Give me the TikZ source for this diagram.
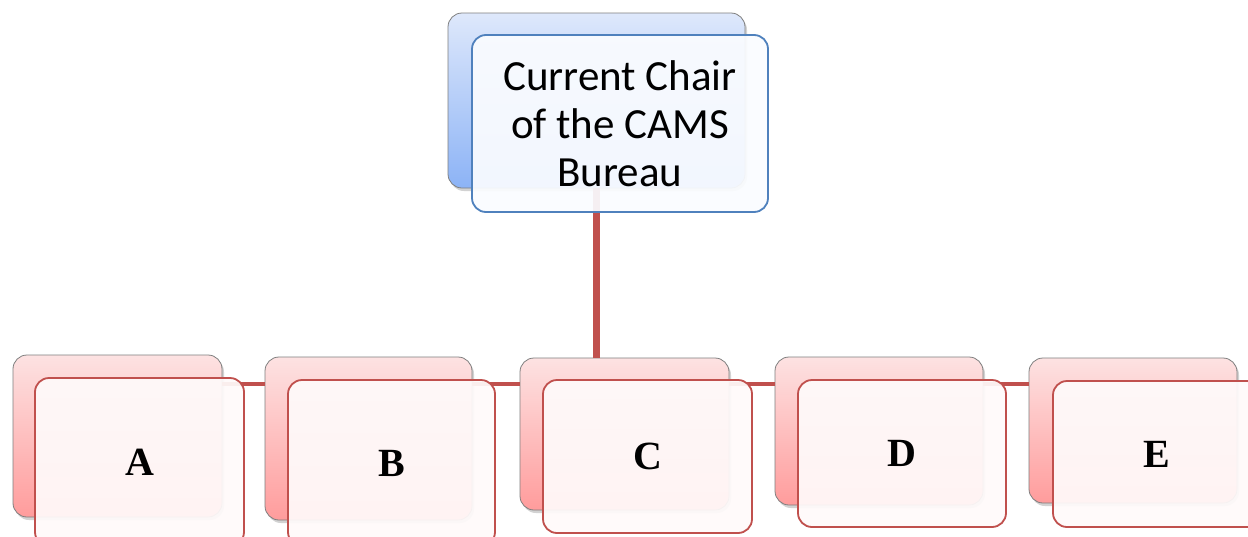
\documentclass[tikz,border=0pt]{standalone}
\usepackage{fontspec}
\newfontfamily\carlito{Carlito}
\newfontfamily\timesf{Liberation Serif}
\usetikzlibrary{shadows}
\definecolor{conncol}{HTML}{C0504D}
\definecolor{pinktop}{HTML}{FDE2E2}
\definecolor{pinkbot}{HTML}{FF9C9C}
\definecolor{bluetop}{HTML}{DEE8FB}
\definecolor{bluebot}{HTML}{8CB3F6}
\definecolor{frontpink}{HTML}{FFFAFA}
\definecolor{frontblue}{HTML}{FAFCFF}
\definecolor{blueline}{HTML}{4F81BD}
\definecolor{backline}{HTML}{7F7F7F}
\tikzset{
  backbox/.style={rectangle, rounded corners=14pt, inner sep=0pt, outer sep=0pt,
    draw=backline, line width=0.8pt, shading=axis, shading angle=20,
    drop shadow={shadow xshift=2pt, shadow yshift=-3pt, opacity=0.35}},
  pinkback/.style={backbox, top color=pinktop, bottom color=pinkbot},
  blueback/.style={backbox, top color=bluetop, bottom color=bluebot},
  frontbox/.style={rectangle, rounded corners=14pt, inner sep=0pt, outer sep=0pt,
    line width=1.8pt, fill opacity=0.93, text opacity=1, align=center},
  pinkfront/.style={frontbox, draw=conncol, fill=frontpink,
    font=\timesf\bfseries\fontsize{40}{46}\selectfont},
  bluefront/.style={frontbox, draw=blueline, fill=frontblue,
    font=\carlito\fontsize{43}{48}\selectfont},
  vconn/.style={draw=conncol, line width=7.5pt},
  hconn/.style={draw=conncol, line width=4pt}
}
\begin{document}
\begin{tikzpicture}[x=1pt,y=-1pt]
\useasboundingbox (0,0) rectangle (1248,536);
\fill[white] (0,0) rectangle (1248,536);
\coordinate (bus) at (0,384);
% back boxes
\node[blueback, minimum width=297pt, minimum height=175pt] (topback) at (596.5,100.5) {};
\node[pinkback, minimum width=209pt, minimum height=162pt] (aback) at (117.5,436) {};
\node[pinkback, minimum width=207pt, minimum height=163pt] (bback) at (368.5,438.5) {};
\node[pinkback, minimum width=209pt, minimum height=152pt] (cback) at (624.5,434) {};
\node[pinkback, minimum width=208pt, minimum height=148pt] (dback) at (879,431) {};
\node[pinkback, minimum width=208pt, minimum height=145pt] (eback) at (1133,430.5) {};
% connectors
\draw[hconn] (aback.east |- bus) -- (bback.west |- bus);
\draw[hconn] (bback.east |- bus) -- (cback.west |- bus);
\draw[hconn] (cback.east |- bus) -- (dback.west |- bus);
\draw[hconn] (dback.east |- bus) -- (eback.west |- bus);
\draw[vconn] (topback.south) -- (topback.south |- cback.north);
% front boxes
\node[bluefront, minimum width=296pt, minimum height=177pt] (top) at (620,123.5)
  {Current Chair\\of the CAMS\\Bureau};
\node[pinkfront, minimum width=209pt, minimum height=168pt] (a) at (139.5,462) {A};
\node[pinkfront, minimum width=207pt, minimum height=166pt] (b) at (391.5,463) {B};
\node[pinkfront, minimum width=209pt, minimum height=153pt] (c) at (647.5,456.5) {C};
\node[pinkfront, minimum width=208pt, minimum height=147pt] (d) at (902,453.5) {D};
\node[pinkfront, minimum width=208pt, minimum height=146pt] (e) at (1157,454) {E};
\end{tikzpicture}
\end{document}
